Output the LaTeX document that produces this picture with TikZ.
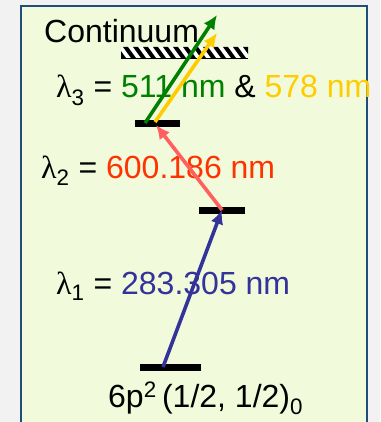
\documentclass[tikz,border=0pt]{standalone}
\usepackage{fontspec}
\setmainfont{Liberation Sans}
\newfontfamily\lamfont{Liberation Serif}
\usetikzlibrary{arrows.meta}
\definecolor{boxfill}{HTML}{F1FADA}
\definecolor{boxline}{HTML}{1F4E79}
\definecolor{outbg}{HTML}{F2F2F2}
\definecolor{tgreen}{HTML}{008000}
\definecolor{tyellow}{HTML}{FFCC00}
\definecolor{tred}{HTML}{FF3300}
\definecolor{apink}{HTML}{FF5F5F}
\definecolor{tblue}{HTML}{333399}
\newcommand{\lam}[1]{{\lamfont λ}\textsubscript{#1}}
\begin{document}
\begin{tikzpicture}[x=1pt,y=-1pt,
  lbl/.style={anchor=base west, inner sep=0pt, font=\fontsize{32}{37}\selectfont},
  level/.style={fill=black, inner sep=0pt, minimum height=7pt},
  beam/.style={line width=3.6pt, -{Latex[length=14pt,width=13pt]}}]
\fill[outbg] (0,0) rectangle (380,422);
\useasboundingbox (0,0) rectangle (380,422);
\fill[boxfill] (21,6) rectangle (367,430);
\draw[boxline, line width=2pt] (21,430) -- (21,6) -- (367,6) -- (367,430);
% texts
\node[lbl] (cont) at (44,43) {Continuum};
\node[lbl] (l3) at (56,98) {\lam{3} = \textcolor{tgreen}{511 nm} \& \textcolor{tyellow}{578 nm}};
\node[lbl] (l2) at (41,178) {\lam{2} = \textcolor{tred}{600.186 nm}};
\node[lbl] (l1) at (56,294) {\lam{1} = \textcolor{tblue}{283.305 nm}};
\node[lbl] (gs) at (108,407) {6p\textsuperscript{2}\,(1/2, 1/2)\textsubscript{0}};
% continuum hatch
\node[fill=white, inner sep=0pt, minimum width=127pt, minimum height=11pt,
  path picture={
    \foreach \i in {0,...,14}
      \fill[black] ([xshift=\i*10pt-8pt]path picture bounding box.north west)
        -- ++(5,0) -- ++(8,11) -- ++(-5,0) -- cycle;
  }] (hatch) at (184.5,52.5) {};
\draw[black, line width=1pt] (hatch.south west) -- (hatch.south east);
% levels
\node[level, minimum width=45pt] (L3) at (157.5,123.5) {};
\node[level, minimum width=46pt] (L2) at (222,210.5) {};
\node[level, minimum width=61pt] (L1) at (170.5,367.5) {};
% arrow end points
\coordinate (b0) at (163,367);
\coordinate (c2) at (222,210);
\coordinate (p1) at (156,125);
\coordinate (g0) at (145,123);
\coordinate (g1) at (217,15);
\coordinate (y0) at (155,122);
\coordinate (y1) at (217,33);
\draw[beam, tblue] (b0) -- (c2);
\draw[beam, apink] (c2) -- (p1);
\draw[beam, tgreen] (g0) -- (g1);
\draw[beam, tyellow] (y0) -- (y1);
\end{tikzpicture}
\end{document}
